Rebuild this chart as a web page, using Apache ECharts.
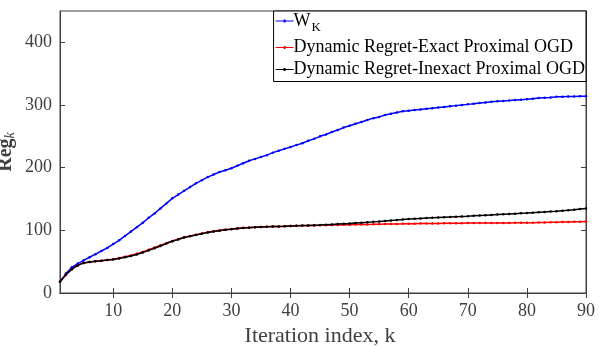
<!DOCTYPE html>
<html>
<head>
<meta charset="utf-8">
<script src="https://cdn.jsdelivr.net/npm/echarts@6/dist/echarts.min.js"></script>
<style>
  html, body { margin: 0; padding: 0; background: #fff; }
  #chart { width: 607px; height: 346px; }
</style>
</head>
<body>
<div id="chart"></div>
<script>
// iteration index k = 1..90
const iterations = Array.from( { length : 90 }, ( _, i ) => i + 1 )

// W_K
const wkValues = [
  18, 31, 41, 47, 52, 57, 62, 67, 72, 78,
  84, 91, 98, 105, 112, 120, 127, 135, 143, 151,
  157, 163, 169, 175, 180, 185, 189, 193, 196, 199,
  203, 207, 211, 214, 217, 220, 224, 227, 230, 233,
  236, 239, 243, 246, 250, 253, 257, 260, 264, 267,
  270, 273, 276, 279, 281, 284, 286, 288, 290, 291,
  292, 293, 294, 295, 296, 297, 298, 299, 300, 301,
  302, 303, 304, 305, 306, 306.5, 307, 308, 308.5, 309,
  310, 311, 311.5, 312, 313, 313, 313.5, 313.5, 314, 314
]

// Dynamic Regret - Exact Proximal OGD
const exactValues = [
  18, 29, 38, 44, 48, 49.5, 50.5, 51.5, 52.5, 54,
  56, 58, 60, 62.5, 65.5, 69, 72.5, 76, 79.5, 83,
  86, 89, 91, 93, 95, 97, 98.5, 100, 101, 102,
  103, 104, 104.5, 105, 105.5, 105.8, 106, 106.2, 106.5, 107,
  107.2, 107.4, 107.6, 107.8, 108, 108.2, 108.4, 108.6, 108.8, 109,
  109.2, 109.3, 109.5, 109.6, 109.8, 110, 110.1, 110.3, 110.4, 110.6,
  110.7, 110.8, 110.9, 111, 111.1, 111.2, 111.3, 111.4, 111.5, 111.6,
  111.6, 111.7, 111.7, 111.8, 111.8, 111.9, 111.9, 112, 112, 112,
  112.2, 112.4, 112.6, 112.8, 113, 113.2, 113.4, 113.6, 113.8, 114
]

// Dynamic Regret - Inexact Proximal OGD
const inexactValues = [
  18, 29, 38, 44, 48, 49.5, 50.5, 51.5, 52.5, 53.5,
  55, 57, 59, 61.5, 64.5, 68, 71.5, 75, 79, 82.5,
  85.5, 88.5, 90.5, 92.5, 94.5, 96.5, 98, 99.5, 100.8, 101.8,
  102.8, 103.7, 104.3, 104.8, 105.3, 105.7, 106, 106.3, 106.6, 107,
  107.3, 107.6, 107.9, 108.2, 108.5, 109, 109.5, 110, 110.5, 111,
  111.6, 112.2, 112.8, 113.5, 114.2, 115, 115.7, 116.4, 117.2, 118,
  118.5, 119, 119.5, 120, 120.5, 121, 121.4, 121.8, 122.2, 122.6,
  123.1, 123.6, 124.1, 124.6, 125.1, 125.6, 126.1, 126.6, 127.1, 127.6,
  128.2, 128.8, 129.4, 130, 130.6, 131.4, 132.2, 133, 134, 135
]

const xTicks = [10, 20, 30, 40, 50, 60, 70, 80, 90]

const legendNames = ['W_K', 'Dynamic Regret-Exact Proximal OGD', 'Dynamic Regret-Inexact Proximal OGD']
const seriesColors = ['#0000ff', '#ff0000', '#000000']
const seriesValues = [wkValues, exactValues, inexactValues]

const serif = 'Liberation Serif'
const axisColor = '#404040'
// short line with a small dot, like the matlab legend sample
const legendIcon = 'path://M0,3 L18,3 L18,4 L0,4 Z M8,2 L10,2 L10,5 L8,5 Z'

function toPairs( values ) {
  return values.map( ( v, i ) => [iterations[i], v] )
}

const chart = echarts.init( document.getElementById( 'chart' ) )

const series = legendNames.map( ( name, i ) => ( {
  name : name,
  type : 'line',
  xAxisIndex : 0,
  yAxisIndex : 0,
  data : toPairs( seriesValues[i] ),
  symbol : 'circle',
  symbolSize : 2.5,
  showSymbol : true,
  showAllSymbol : true,
  itemStyle : { color : seriesColors[i] },
  lineStyle : { color : seriesColors[i], width : 1.5 },
  emphasis : { disabled : true },
  animation : false,
  z : 2 + i
} ) )

chart.setOption( {
  backgroundColor : '#ffffff',
  animation : false,
  grid : {
    left : 60,
    right : 21,
    top : 11,
    bottom : 53,
    outerBoundsMode : 'none',
    show : true,
    borderColor : axisColor,
    borderWidth : 1,
    backgroundColor : 'transparent'
  },
  legend : {
    orient : 'vertical',
    right : 21,
    top : 11,
    backgroundColor : '#ffffff',
    borderColor : '#000000',
    borderWidth : 1,
    borderRadius : 0,
    padding : [1, 1, 3, 2],
    itemGap : 4,
    itemWidth : 18,
    itemHeight : 7,
    icon : legendIcon,
    align : 'left',
    data : legendNames,
    formatter : function( name ) {
      if ( name === 'W_K' ) {
        return '{m|W}{s|K}'
      }
      return '{m|' + name + '}'
    },
    textStyle : {
      fontFamily : serif,
      fontSize : 18,
      color : '#000000',
      padding : [0, 0, 0, -5],
      rich : {
        m : { fontFamily : serif, fontSize : 18, color : '#000000' },
        s : { fontFamily : serif, fontSize : 13, color : '#000000', padding : [14, 0, 0, 1] }
      }
    }
  },
  xAxis : [
    {
      type : 'value',
      min : 1,
      max : 90,
      name : 'Iteration index, k',
      nameLocation : 'middle',
      nameGap : 28,
      nameTextStyle : { fontFamily : serif, fontSize : 22, color : axisColor, padding : [0, 6, 0, 0] },
      axisLine : { show : true, lineStyle : { color : axisColor, width : 1 } },
      axisTick : { show : true, inside : true, length : 5, customValues : xTicks, lineStyle : { color : axisColor } },
      axisLabel : { customValues : xTicks, margin : 9, fontFamily : serif, fontSize : 18, color : axisColor },
      splitLine : { show : false }
    },
    {
      type : 'value',
      position : 'top',
      min : 1,
      max : 90,
      axisLine : { show : true, lineStyle : { color : axisColor, width : 1 } },
      axisTick : { show : true, inside : true, length : 5, customValues : xTicks, lineStyle : { color : axisColor } },
      axisLabel : { show : false },
      splitLine : { show : false }
    }
  ],
  yAxis : [
    {
      type : 'value',
      min : 0,
      max : 450,
      interval : 100,
      name : '{b|Reg}{s|k}',
      nameLocation : 'middle',
      nameGap : 43,
      nameRotate : 90,
      nameMoveOverlap : false,
      nameTextStyle : {
        color : axisColor,
        rich : {
          b : { fontFamily : serif, fontSize : 20, fontWeight : 'bold', color : axisColor },
          s : { fontFamily : serif, fontSize : 14, fontStyle : 'italic', color : axisColor, padding : [8, 0, 0, 0] }
        }
      },
      axisLine : { show : true, lineStyle : { color : axisColor, width : 1 } },
      axisTick : { show : true, inside : true, length : 5, lineStyle : { color : axisColor } },
      axisLabel : { showMaxLabel : false, margin : 8, fontFamily : serif, fontSize : 18, color : axisColor },
      splitLine : { show : false }
    },
    {
      type : 'value',
      position : 'right',
      min : 0,
      max : 450,
      interval : 100,
      axisLine : { show : true, lineStyle : { color : axisColor, width : 1 } },
      axisTick : { show : true, inside : true, length : 5, lineStyle : { color : axisColor } },
      axisLabel : { show : false },
      splitLine : { show : false }
    }
  ],
  series : series
} )
</script>
</body>
</html>
